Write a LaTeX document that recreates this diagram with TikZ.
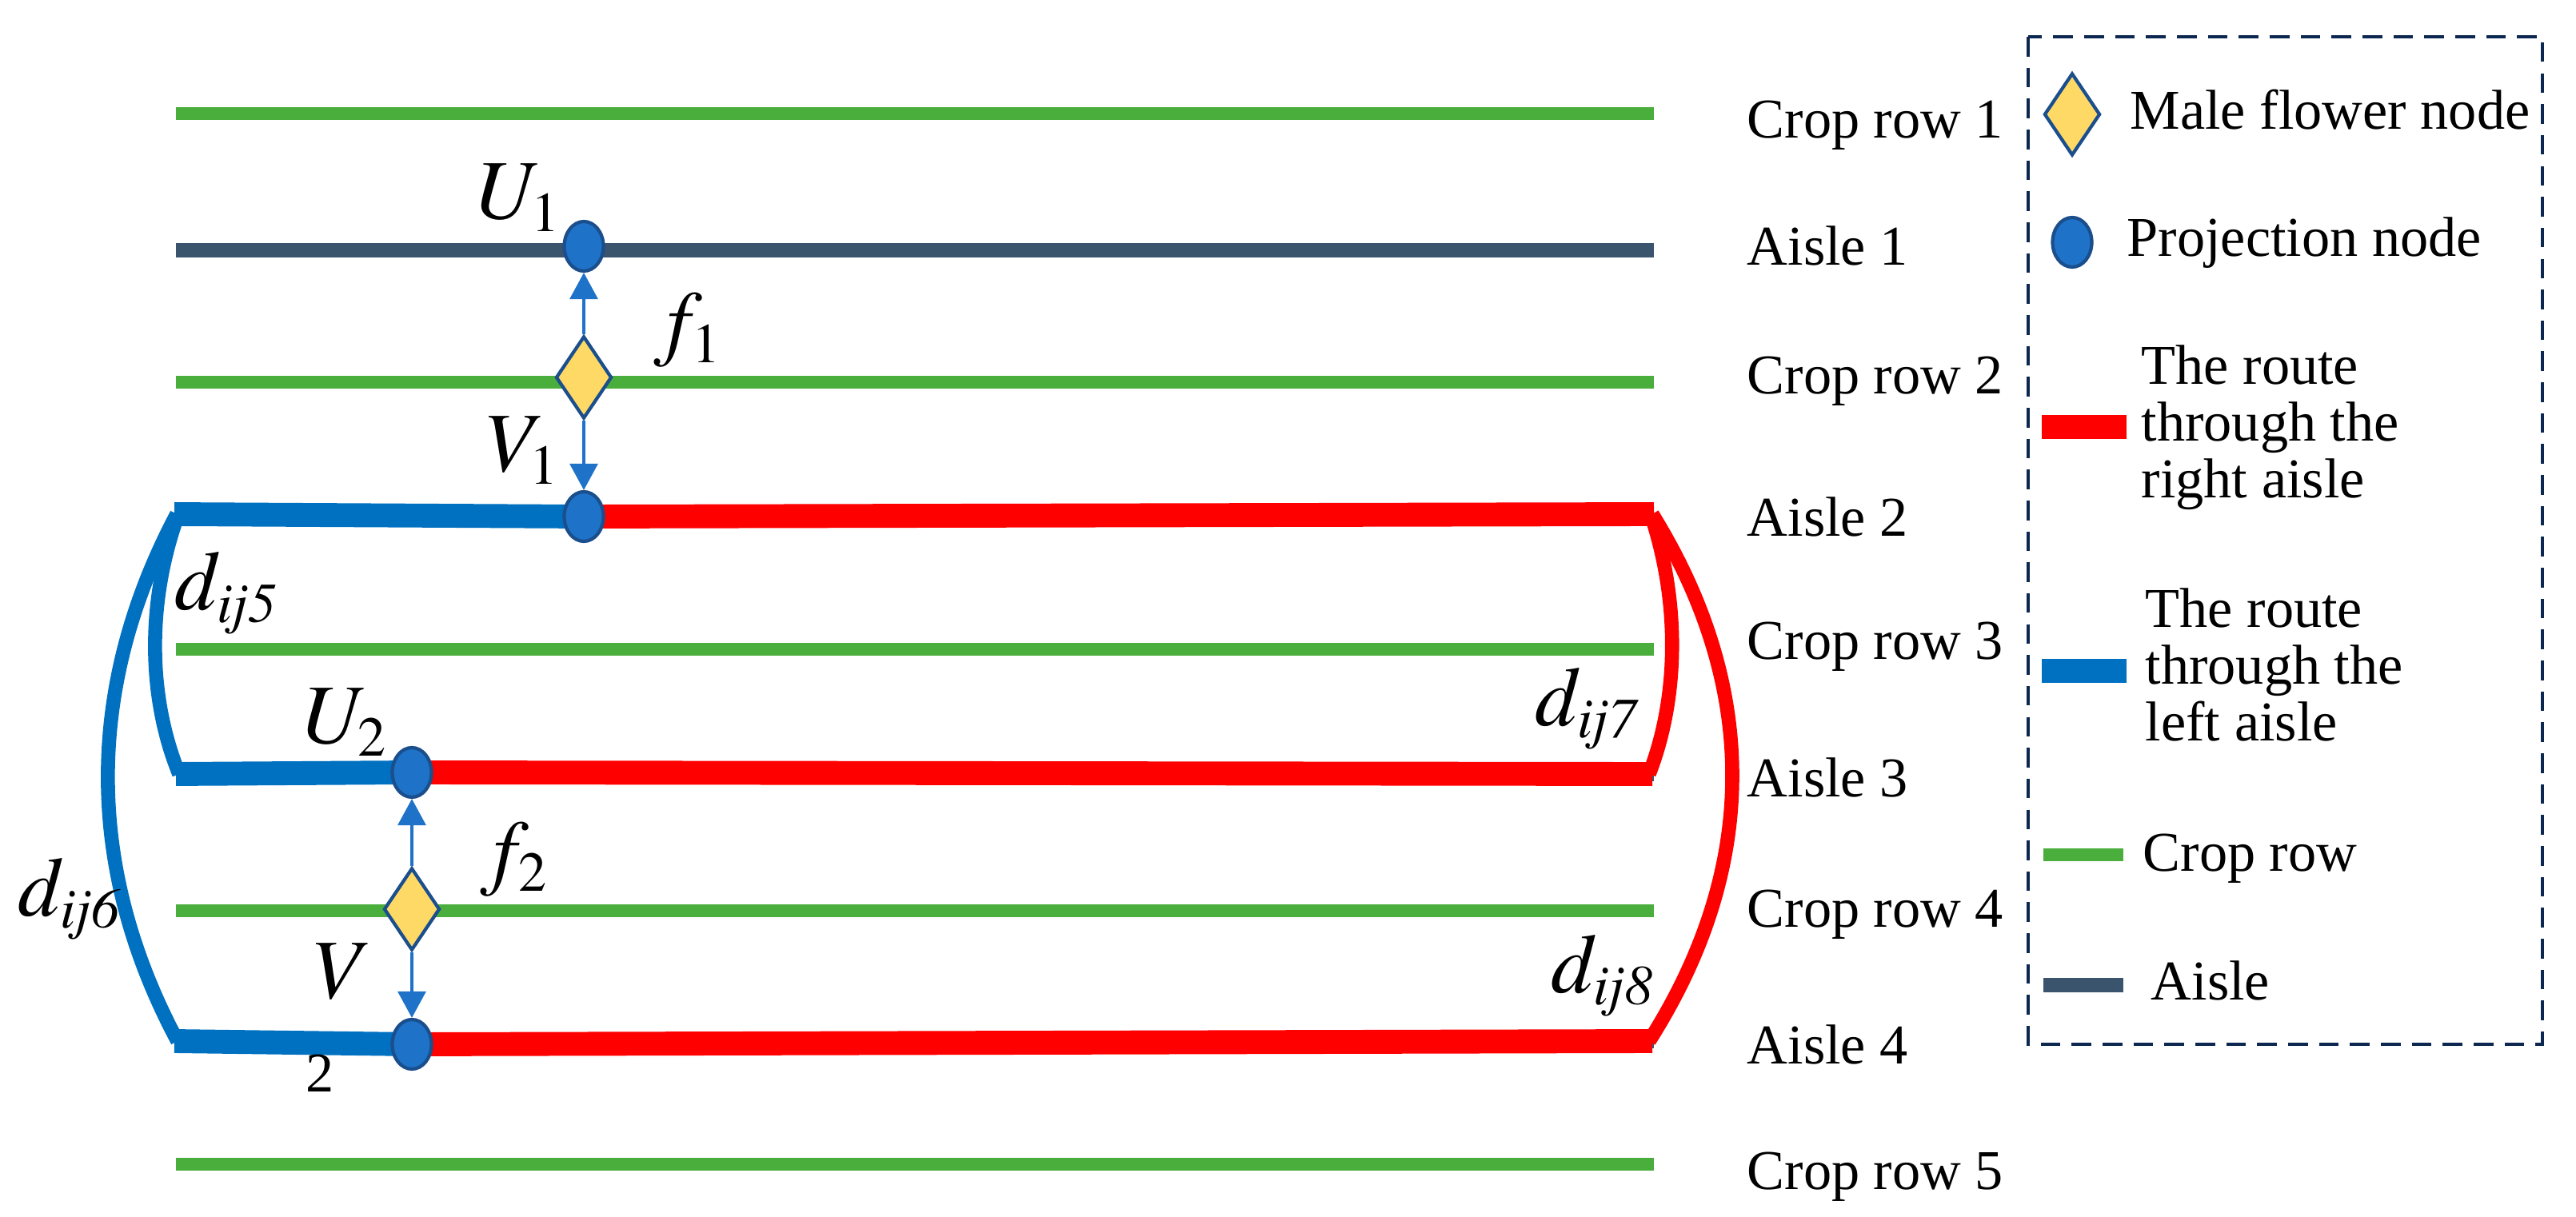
\documentclass[tikz,border=0pt]{standalone}
\usepackage{mathptmx}
\usepackage{fontspec}
\setmainfont{Liberation Serif}
\usetikzlibrary{shapes.geometric,arrows.meta,backgrounds}
\DeclareMathSizes{30}{30}{20}{15}

\definecolor{cropgreen}{RGB}{74,174,60}
\definecolor{aislegray}{RGB}{59,84,110}
\definecolor{leftblue}{RGB}{0,112,192}
\definecolor{nodeblue}{RGB}{30,115,200}
\definecolor{nodeedge}{RGB}{26,78,140}
\definecolor{flowery}{RGB}{255,217,102}
\definecolor{boxnavy}{RGB}{12,40,80}

\tikzset{
  croprow/.style={cropgreen, line width=4.6pt},
  aisle/.style={aislegray, line width=5pt},
  leftroute/.style={leftblue, line width=8.5pt},
  rightroute/.style={red, line width=8.5pt},
  leftbend/.style={leftblue, line width=5pt},
  rightbend/.style={red, line width=5pt},
  proj/.style={ellipse, fill=nodeblue, draw=nodeedge, line width=1.2pt,
    minimum width=0.49cm, minimum height=0.62cm, inner sep=0pt},
  male/.style={diamond, fill=flowery, draw=nodeedge, line width=1.2pt,
    minimum width=0.70cm, minimum height=1.03cm, inner sep=0pt},
  projarrow/.style={-{Triangle[width=0.35cm,length=0.33cm]}, nodeblue, line width=0.9pt},
  rowlabel/.style={anchor=base west, inner sep=0pt, font=\fontsize{20}{20.2}\selectfont},
  mathlabel/.style={anchor=base west, inner sep=0pt, font=\fontsize{30}{36}\selectfont}
}

\begin{document}
\begin{tikzpicture}
\useasboundingbox (0,0) rectangle (32.21,-15.22);

% nodes on the rows
\node[proj] (U1) at (7.30,-3.08) {};
\node[male] (f1) at (7.30,-4.72) {};
\node[proj] (V1) at (7.30,-6.46) {};
\node[proj] (U2) at (5.15,-9.66) {};
\node[male] (f2) at (5.15,-11.37) {};
\node[proj] (V2) at (5.15,-13.06) {};

\coordinate (bl2) at (2.18,-6.43);
\coordinate (bl3) at (2.20,-9.68);
\coordinate (bl4) at (2.18,-13.02);
\coordinate (rr2) at (20.68,-6.43);
\coordinate (rr3) at (20.66,-9.68);
\coordinate (rr4) at (20.66,-13.02);

\begin{scope}[on background layer]
\foreach \y/\kind in {1.42/croprow, 3.13/aisle, 4.78/croprow, 6.43/aisle, 8.12/croprow,
    9.68/aisle, 11.39/croprow, 13.02/aisle, 14.56/croprow}
    \draw[\kind] (2.20,-\y) -- (20.68,-\y);
\draw[leftbend] ([xshift=0.05cm]bl2) .. controls (1.84,-7.5) and (1.84,-8.7) .. ([xshift=0.04cm]bl3);
\draw[leftbend] ([xshift=0.03cm]bl2) .. controls (1.06,-8.6) and (1.06,-10.85) .. ([xshift=0.04cm]bl4);
\draw[rightbend] ([xshift=-0.04cm]rr2) .. controls (21.00,-7.5) and (21.00,-8.7) .. ([xshift=-0.04cm]rr3);
\draw[rightbend] ([xshift=-0.02cm]rr2) .. controls (22.00,-8.6) and (22.00,-10.85) .. ([xshift=-0.04cm]rr4);
\draw[leftroute] (V1.center) -- (bl2);
\draw[leftroute] (U2.center) -- (bl3);
\draw[leftroute] (V2.center) -- (bl4);
\draw[rightroute] (V1.center) -- (rr2);
\draw[rightroute] (U2.center) -- (rr3);
\draw[rightroute] (V2.center) -- (rr4);
\end{scope}

\draw[projarrow] (f1) -- (U1);
\draw[projarrow] (f1) -- (V1);
\draw[projarrow] (f2) -- (U2);
\draw[projarrow] (f2) -- (V2);

\node[mathlabel] (lU1) at (5.96,-2.74) {$U_1$};
\node[mathlabel] (lf1) at (8.17,-4.38) {$f_1$};
\node[mathlabel] (lV1) at (6.08,-5.90) {$V_1$};
\node[mathlabel] (lU2) at (3.79,-9.30) {$U_2$};
\node[mathlabel] (lf2) at (6.00,-10.99) {$f_2$};
\node[mathlabel] (lV2) at (3.92,-12.48) {$V$};
\node[rowlabel] (lV2sub) at (3.82,-13.65) {2};
\node[mathlabel] (d5) at (2.18,-7.63) {$d_{\mathit{ij5}}$};
\node[mathlabel] (d6) at (0.22,-11.45) {$d_{\mathit{ij6}}$};
\node[mathlabel] (d7) at (19.19,-9.07) {$d_{\mathit{ij7}}$};
\node[mathlabel] (d8) at (19.39,-12.41) {$d_{\mathit{ij8}}$};

\foreach \y/\txt [count=\i] in {1.73/Crop row 1, 3.32/Aisle 1, 4.93/Crop row 2, 6.71/Aisle 2,
    8.25/Crop row 3, 9.96/Aisle 3, 11.59/Crop row 4, 13.30/Aisle 4, 14.87/Crop row 5}
    \node[rowlabel] (row\i) at (21.84,-\y) {\txt};

% legend
\draw[boxnavy, line width=1.4pt, dash pattern=on 7pt off 4pt] (25.36,-0.46) rectangle (31.79,-13.06);
\node[male] (keyf) at (25.91,-1.43) {};
\node[rowlabel] (keyftxt) at (26.63,-1.62) {Male flower node};
\node[proj] (keyp) at (25.91,-3.03) {};
\node[rowlabel] (keyptxt) at (26.59,-3.21) {Projection node};
\draw[rightroute] (25.53,-5.34) -- (26.59,-5.34);
\node[rowlabel, anchor=west, align=left] (keyr) at (26.77,-5.345) {The route\\through the\\right aisle};
\draw[leftroute] (25.53,-8.39) -- (26.59,-8.39);
\node[rowlabel, anchor=west, align=left] (keyl) at (26.82,-8.31) {The route\\through the\\left aisle};
\draw[croprow] (25.55,-10.69) -- (26.55,-10.69);
\node[rowlabel] (keyc) at (26.79,-10.89) {Crop row};
\draw[aisle] (25.55,-12.32) -- (26.55,-12.32);
\node[rowlabel] (keya) at (26.89,-12.50) {Aisle};
\end{tikzpicture}
\end{document}
